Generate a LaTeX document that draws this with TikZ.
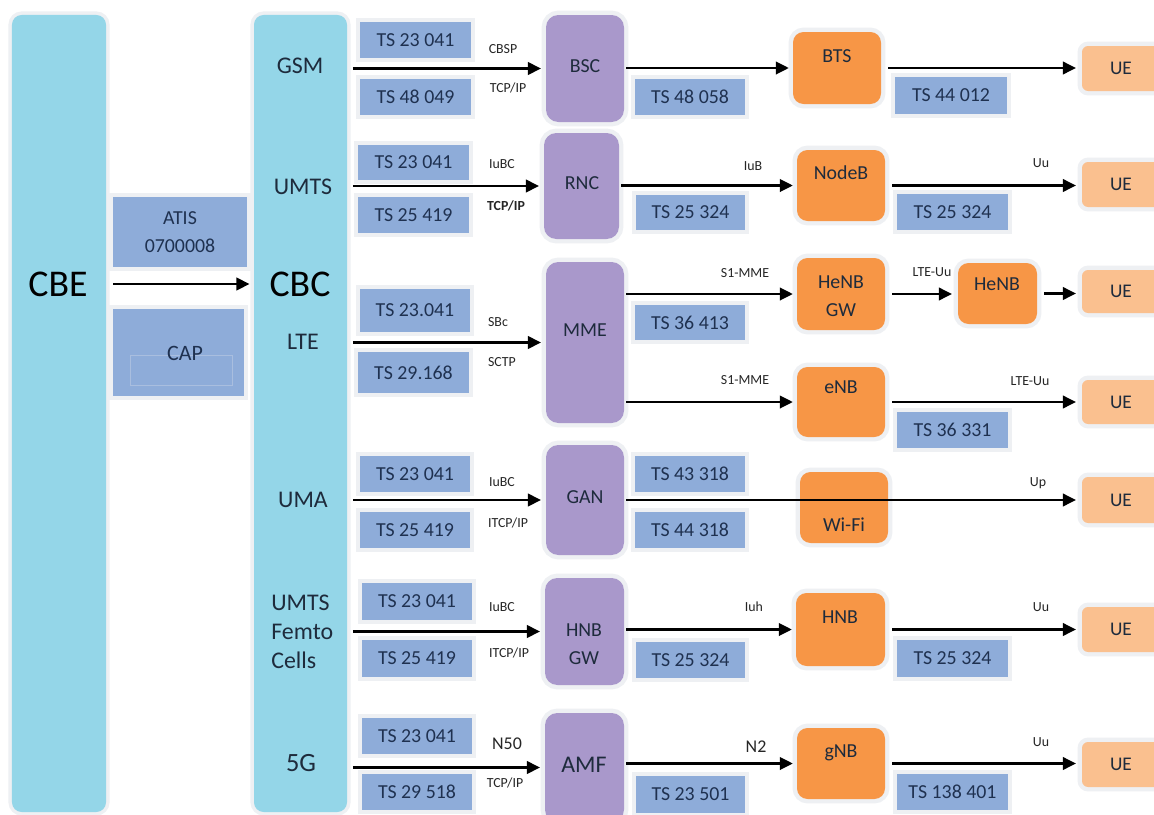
\documentclass[tikz,border=0pt]{standalone}
\usepackage{fontspec}
\setmainfont{Carlito}
\usetikzlibrary{arrows.meta}
\definecolor{barblue}{HTML}{94D6E8}
\definecolor{tsblue}{HTML}{8EACD9}
\definecolor{purp}{HTML}{A998CB}
\definecolor{orng}{HTML}{F79646}
\definecolor{uecol}{HTML}{FAC08F}
\definecolor{txt}{HTML}{1E2B3C}
\definecolor{tstxt}{HTML}{1F3150}
\definecolor{halo}{HTML}{EEF0F3}
\definecolor{capline}{HTML}{A9BEDF}
\newcommand\mkbox[7]{%
  \pgfmathsetmacro\mkbw{(#5-#3)*0.02}%
  \pgfmathsetmacro\mkbh{(#6-#4)*0.02}%
  \node[#1, minimum width=\mkbw cm, minimum height=\mkbh cm] (#2) at ({(#3+#5)/2},{(#4+#6)/2}) {#7};}
\tikzset{
  base/.style={inner sep=0pt, outer sep=0pt, text=txt, align=center},
  bar/.style={base, fill=barblue, rounded corners=5.5pt, preaction={draw=halo, line width=4pt}},
  tsb/.style={base, fill=tsblue, text=tstxt, font=\fontsize{11.3}{16}\selectfont, preaction={draw=halo, line width=5pt}},
  pbox/.style={base, fill=purp, rounded corners=7pt, font=\fontsize{11.3}{16}\selectfont, preaction={draw=halo, line width=5pt}},
  obox/.style={base, fill=orng, rounded corners=6pt, preaction={draw=halo, line width=5pt}},
  uebox/.style={base, fill=uecol, rounded corners=3.5pt, font=\fontsize{11}{13}\selectfont, preaction={draw=halo, line width=5pt}},
  otxt/.style={inner sep=0pt, text=txt, align=center, font=\fontsize{11.3}{16}\selectfont},
  side/.style={inner sep=0pt, text=txt, font=\fontsize{13.6}{16.4}\selectfont},
  big/.style={inner sep=0pt, text=black, font=\fontsize{21.5}{24}\selectfont},
  lbl/.style={inner sep=0pt, text=black!85, font=\fontsize{7.9}{9}\selectfont},
  lblb/.style={inner sep=0pt, text=black!85, font=\fontsize{10.2}{12}\selectfont},
  arr/.style={line width=1.7pt, -{Triangle[length=7.5pt,width=7pt]}},
}
\begin{document}
\begin{tikzpicture}[x=0.02cm, y=-0.02cm]
\useasboundingbox (0,0) rectangle (1154,815);
\clip (0,0) rectangle (1154,815);
\fill[white] (0,0) rectangle (1154,815);

% bars
\mkbox{bar}{cbe}{12}{15}{106}{812}{}
\mkbox{bar}{cbc}{254}{15}{347}{812}{}
\node[big] (cbe-t) at (58,284) {CBE};
\node[big] (cbc-t) at (300,284) {CBC};
\node[side] (gsm-t) at (300,66) {GSM};
\node[side] (umts-t) at (303,187) {UMTS};
\node[side] (lte-t) at (303,342) {LTE};
\node[side] (uma-t) at (303,500) {UMA};
\node[side, anchor=west, align=left] (femto-t) at (271,632) {UMTS\\Femto\\Cells};
\node[side, font=\fontsize{15}{17}\selectfont] (g5-t) at (301,763) {5G};

% ATIS / CAP
\mkbox{tsb}{atis}{113}{197}{247}{267}{ATIS\\0700008}
\mkbox{tsb, font=\fontsize{12.5}{14}\selectfont}{cap}{113}{309}{244}{396}{}
\draw[capline, line width=0.3pt] (130,355) rectangle (232,385);
\node[inner sep=0pt, text=tstxt, font=\fontsize{12.5}{14}\selectfont] (cap-t) at (185,353) {CAP};
\draw[arr, shorten <=4pt, shorten >=2.5pt] (cbe.east |- cbe-t) -- (cbc.west |- cbe-t);

% TS boxes, left column
\mkbox{tsb}{ta1}{360}{22}{471}{58}{TS 23 041}
\mkbox{tsb}{ta2}{360}{79}{471}{115}{TS 48 049}
\mkbox{tsb}{tb1}{358}{145}{469}{180}{TS 23 041}
\mkbox{tsb}{tb2}{358}{197}{469}{233}{TS 25 419}
\mkbox{tsb}{tc1}{360}{289}{470}{332}{TS 23.041}
\mkbox{tsb}{tc2}{358}{352}{469}{393}{TS 29.168}
\mkbox{tsb}{td1}{360}{456}{470}{492}{TS 23 041}
\mkbox{tsb}{td2}{360}{512}{470}{548}{TS 25 419}
\mkbox{tsb}{te1}{362}{583}{472}{620}{TS 23 041}
\mkbox{tsb}{te2}{362}{640}{472}{677}{TS 25 419}
\mkbox{tsb}{tf1}{362}{718}{472}{754}{TS 23 041}
\mkbox{tsb}{tf2}{362}{774}{472}{810}{TS 29 518}

% TS boxes, middle column
\mkbox{tsb}{ma1}{635}{79}{745}{115}{TS 48 058}
\mkbox{tsb}{mb1}{636}{195}{745}{230}{TS 25 324}
\mkbox{tsb}{mc1}{635}{305}{745}{340}{TS 36 413}
\mkbox{tsb}{md1}{635}{456}{745}{492}{TS 43 318}
\mkbox{tsb}{md2}{635}{512}{745}{548}{TS 44 318}
\mkbox{tsb}{me1}{636}{642}{745}{678}{TS 25 324}
\mkbox{tsb}{mf1}{636}{776}{745}{813}{TS 23 501}

% TS boxes, right column
\mkbox{tsb}{ra1}{895}{77}{1007}{114}{TS 44 012}
\mkbox{tsb}{rb1}{897}{194}{1008}{230}{TS 25 324}
\mkbox{tsb}{rc1}{897}{412}{1008}{448}{TS 36 331}
\mkbox{tsb}{re1}{897}{640}{1008}{677}{TS 25 324}
\mkbox{tsb}{rf1}{897}{774}{1008}{810}{TS 138 401}

% purple boxes
\mkbox{pbox}{bsc}{546}{15}{624}{122}{}
\mkbox{pbox}{rnc}{544}{133}{619}{239}{}
\mkbox{pbox}{mme}{546}{262}{624}{423}{}
\mkbox{pbox}{gan}{546}{445}{624}{555}{}
\mkbox{pbox}{hnbgw}{545}{578}{624}{685}{}
\mkbox{pbox}{amf}{545}{713}{624}{822}{}
\node[otxt] (bsc-t) at (585,66) {BSC};
\node[otxt] (rnc-t) at (582,183) {RNC};
\node[otxt] (mme-t) at (585,330) {MME};
\node[otxt] (gan-t) at (585,497) {GAN};
\node[otxt] (hnbgw-t) at (584,644) {HNB\\GW};
\node[otxt, font=\fontsize{13.6}{16}\selectfont] (amf-t) at (584,765) {AMF};

% orange boxes
\mkbox{obox}{bts}{793}{32}{881}{104}{}
\mkbox{obox}{nodeb}{797}{150}{885}{221}{}
\mkbox{obox}{henbgw}{797}{258}{885}{330}{}
\mkbox{obox}{henb}{958}{263}{1037}{324}{}
\mkbox{obox}{enb}{797}{367}{885}{437}{}
\mkbox{obox}{wifi}{800}{472}{888}{543}{}
\mkbox{obox}{hnb}{796}{593}{885}{666}{}
\mkbox{obox}{gnb}{797}{728}{885}{799}{}
\node[otxt] (bts-t) at (837,56) {BTS};
\node[otxt] (nodeb-t) at (841,173) {NodeB};
\node[otxt] (henbgw-t) at (841,296) {HeNB\\GW};
\node[otxt] (henb-t) at (997,284) {HeNB};
\node[otxt] (enb-t) at (841,387) {eNB};
\node[otxt] (wifi-t) at (844,525) {Wi-Fi};
\node[otxt] (hnb-t) at (840,617) {HNB};
\node[otxt] (gnb-t) at (841,753) {gNB};

% UE boxes
\mkbox{uebox}{ue1}{1082}{46}{1160}{91}{UE}
\mkbox{uebox}{ue2}{1082}{162}{1160}{207}{UE}
\mkbox{uebox}{ue3}{1082}{270}{1160}{313}{UE}
\mkbox{uebox}{ue4}{1082}{380}{1160}{424}{UE}
\mkbox{uebox}{ue5}{1082}{477}{1160}{523}{UE}
\mkbox{uebox}{ue6}{1082}{607}{1160}{652}{UE}
\mkbox{uebox}{ue7}{1082}{742}{1160}{787}{UE}

% arrows CBC -> core
\begin{scope}[shorten <=3.4pt, shorten >=2.8pt]
\draw[arr] (cbc.east |- bsc.west) -- (bsc.west);
\draw[arr] (cbc.east |- rnc.west) -- (rnc.west);
\draw[arr] (cbc.east |- mme.west) -- (mme.west);
\draw[arr] (cbc.east |- gan.west) -- (gan.west);
\draw[arr] (cbc.east |- hnbgw.west) -- (hnbgw.west);
\draw[arr] (cbc.east |- amf.west) -- (amf.west);
\end{scope}

% arrows core -> access
\begin{scope}[shorten <=1.2pt, shorten >=2.3pt]
\draw[arr] (bsc.east |- bts.west) -- (bts.west);
\draw[arr] (rnc.east |- nodeb.west) -- (nodeb.west);
\draw[arr] (mme.east |- henbgw.west) -- (henbgw.west);
\draw[arr] (mme.east |- enb.west) -- (enb.west);
\draw[arr] (hnbgw.east |- hnb.west) -- (hnb.west);
\draw[arr] (amf.east |- gnb.west) -- (gnb.west);
\end{scope}

% arrows access -> UE
\begin{scope}[shorten <=4pt, shorten >=3.4pt]
\draw[arr] (bts.east) -- (bts.east -| ue1.west);
\draw[arr] (nodeb.east) -- (nodeb.east -| ue2.west);
\draw[arr] (henbgw.east) -- (henbgw.east -| henb.west);
\draw[arr] (henb.east) -- (henb.east -| ue3.west);
\draw[arr] (enb.east) -- (enb.east -| ue4.west);
\draw[arr] (hnb.east) -- (hnb.east -| ue6.west);
\draw[arr] (gnb.east) -- (gnb.east -| ue7.west);
\end{scope}
\draw[arr, shorten <=1.2pt, shorten >=3.4pt] (gan.east) -- (gan.east -| ue5.west);

% interface labels
\node[lbl] (l1a) at (503,49) {CBSP};
\node[lbl] (l1b) at (508,88) {TCP/IP};
\node[lbl] (l2a) at (502,164) {IuBC};
\node[lbl, font=\bfseries\fontsize{7.9}{9}\selectfont] (l2b) at (506,206) {TCP/IP};
\node[lbl] (l2c) at (753,166) {IuB};
\node[lbl] (l2d) at (1041,163) {Uu};
\node[lbl] (l3a) at (498,322) {SBc};
\node[lbl] (l3b) at (502,362) {SCTP};
\node[lbl] (l3c) at (745,273) {S1-MME};
\node[lbl] (l3d) at (745,380) {S1-MME};
\node[lbl] (l3e) at (932,272) {LTE-Uu};
\node[lbl] (l3f) at (1030,381) {LTE-Uu};
\node[lbl] (l4a) at (502,482) {IuBC};
\node[lbl] (l4b) at (508,523) {ITCP/IP};
\node[lbl] (l4c) at (1038,483) {Up};
\node[lbl] (l5a) at (502,607) {IuBC};
\node[lbl] (l5b) at (509,653) {ITCP/IP};
\node[lbl] (l5c) at (754,607) {Iuh};
\node[lbl] (l5d) at (1041,607) {Uu};
\node[lblb] (l6a) at (507,744) {N50};
\node[lbl] (l6b) at (505,783) {TCP/IP};
\node[lblb] (l6c) at (756,747) {N2};
\node[lbl] (l6d) at (1041,742) {Uu};
\end{tikzpicture}
\end{document}
